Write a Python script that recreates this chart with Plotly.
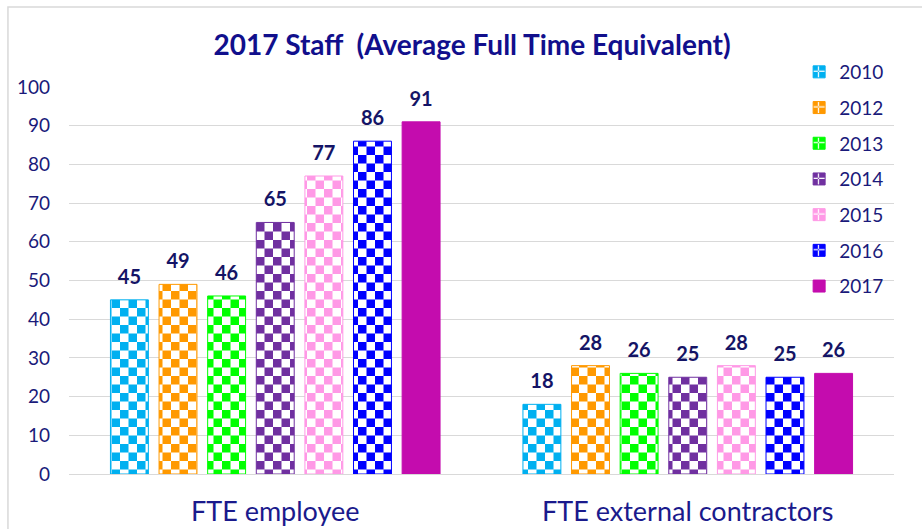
import plotly.graph_objects as go

categories = ["FTE employee", "FTE external contractors"]
years = ["2010", "2012", "2013", "2014", "2015", "2016", "2017"]
values = {
    "2010": [45, 18],
    "2012": [49, 28],
    "2013": [46, 26],
    "2014": [65, 25],
    "2015": [77, 28],
    "2016": [86, 25],
    "2017": [91, 26],
}
colors = {
    "2010": "#00B0F0",
    "2012": "#FF9900",
    "2013": "#00FF00",
    "2014": "#7030A0",
    "2015": "#FF99E6",
    "2016": "#0000FF",
    "2017": "#C40CAE",
}
solid_years = ["2017"]

FONT = "Lato, 'Open Sans', sans-serif"
NAVY = "#1A1A7A"
TITLE_C = "#110F8C"
LABEL_C = "#141466"

S = 17  # checker tile size
h = S / 2
checker = f"M0,0H{h}V{h}H0Z M{h},{h}H{S}V{S}H{h}Z"

fig = go.Figure()
for i, y in enumerate(years):
    c = colors[y]
    marker = dict(color=c, line=dict(width=1, color=c))
    if y not in solid_years:
        marker["pattern"] = dict(path=checker, size=S, fgcolor=c, bgcolor="white", fillmode="replace")
    fig.add_trace(go.Bar(
        name=y, x=categories, y=values[y], marker=marker,
        legendgroup=y, offsetgroup=y, hoverinfo="skip",
    ))
# value labels, grouped like the bars
for i, y in enumerate(years):
    fig.add_trace(go.Scatter(
        x=categories, y=values[y], mode="markers+text",
        marker=dict(size=16, opacity=0, color="white"),
        text=[str(v) for v in values[y]], textposition="top center",
        textfont=dict(family=FONT, size=20, color=LABEL_C, weight="bold"),
        offsetgroup=y, showlegend=False, cliponaxis=False, legendgroup=y,
        hoverinfo="skip",
    ))

# plot area: top margin 40, bottom 55 -> 434 px tall; y-axis occupies lower 387 px
PH = 529 - 40 - 55
fig.update_layout(
    width=922, height=529,
    margin=dict(l=69, r=28, t=40, b=55, autoexpand=False),
    paper_bgcolor="white", plot_bgcolor="white",
    barmode="group", bargap=0.175, bargroupgap=0.22,
    scattermode="group", scattergap=0.175,
    title=dict(text="<b>2017 Staff  (Average Full Time Equivalent)</b>",
               x=0.512, xanchor="center", y=0.915, yanchor="middle",
               font=dict(family=FONT, size=28, color=TITLE_C)),
    font=dict(family=FONT, color=NAVY),
    legend=dict(x=0.885, xanchor="left", y=(474 - 53) / PH, yanchor="top",
                font=dict(family=FONT, size=19, color=NAVY),
                traceorder="grouped", tracegroupgap=8,
                bgcolor="rgba(0,0,0,0)"),
    shapes=[dict(type="rect", xref="paper", yref="paper",
                 x0=-0.074, x1=1.2, y0=-0.4, y1=(474 - 7) / PH,
                 line=dict(color="#D9D9D9", width=1.5), layer="below")],
)
fig.update_yaxes(domain=[0, 387 / PH], range=[0, 100], dtick=10, showgrid=True,
                 gridcolor="#D9D9D9", gridwidth=1, zeroline=True,
                 zerolinecolor="#D9D9D9", zerolinewidth=1,
                 showline=False, ticks="", ticklabelstandoff=18,
                 tickfont=dict(family=FONT, size=19, color=NAVY))
fig.update_xaxes(showline=False, ticks="", ticklabelstandoff=19,
                 tickfont=dict(family=FONT, size=27, color="#1A1A8C"))

fig.write_html("out.html", config={"displayModeBar": False},
               post_script="document.body.style.margin='0';")
